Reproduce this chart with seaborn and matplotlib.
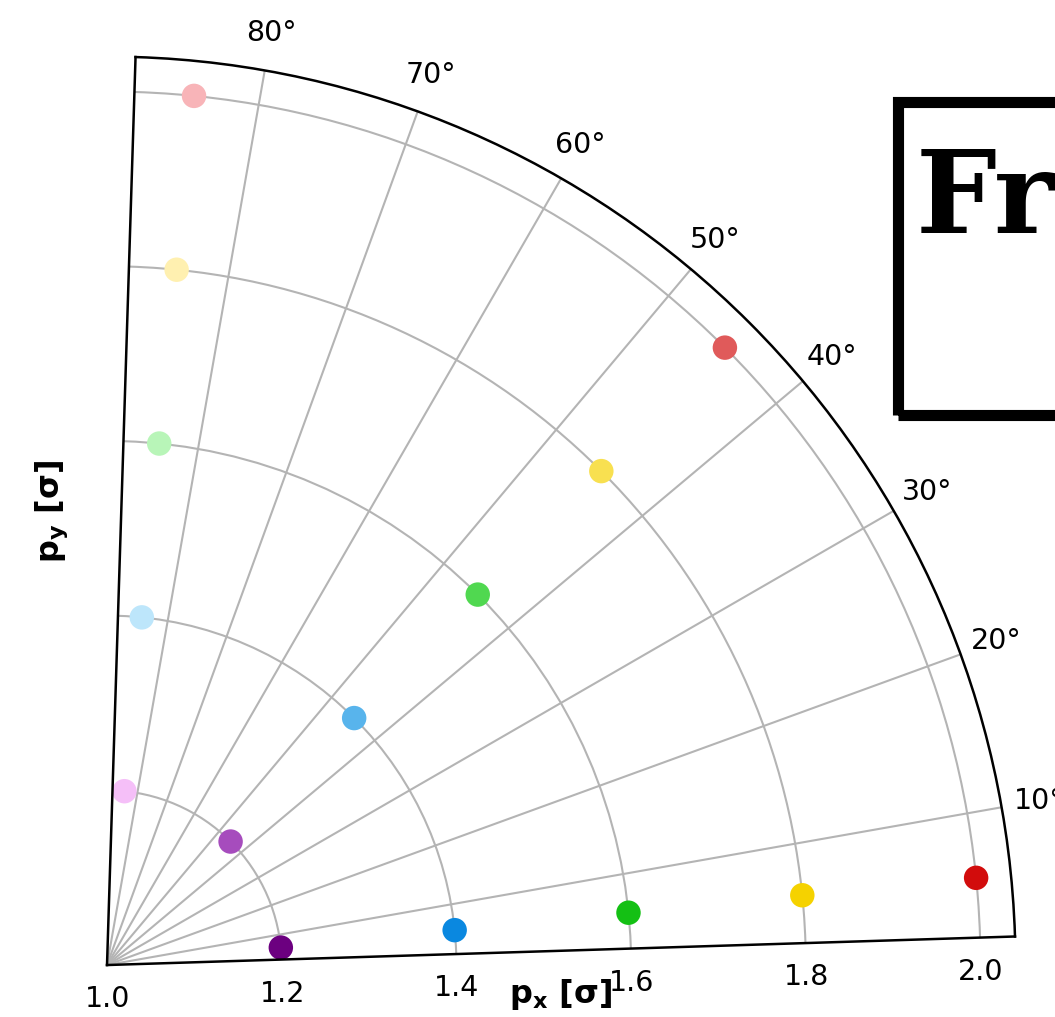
import numpy as np
import pandas as pd
import matplotlib
matplotlib.use("Agg")
import matplotlib.pyplot as plt
from matplotlib.patches import Rectangle
import seaborn as sns

# Momentum magnitudes (in units of sigma) and emission angles (radians)
radii = [1.2, 1.4, 1.6, 1.8, 2.0]
angles = [0.1, 0.785, 1.471]

# One colour set per angle row, ordered by radius
colors_low = ["#6c0080", "#0a88e0", "#14c014", "#f5d200", "#d20c0c"]
colors_mid = ["#a64cbd", "#58b4ec", "#50d850", "#f8e050", "#e05a5a"]
colors_high = ["#f5bff8", "#bde6fb", "#b8f5b8", "#fff0b0", "#f8b4b8"]
row_colors = [colors_low, colors_mid, colors_high]

theta_ticks = [10, 20, 30, 40, 50, 60, 70, 80]
r_ticks = [1.0, 1.2, 1.4, 1.6, 1.8, 2.0]

sns.set_style("white")
plt.rcParams["font.family"] = ["DejaVu Sans"]
plt.rcParams["text.color"] = "black"
plt.rcParams["axes.labelcolor"] = "black"
plt.rcParams["xtick.color"] = "black"
plt.rcParams["ytick.color"] = "black"

fig = plt.figure(figsize=(10.55, 10.17), dpi=100)
ax = fig.add_axes([0.1014, 0.0511, 0.8607, 0.8928], projection="polar")

for ang, cols in zip(angles, row_colors):
    df = pd.DataFrame({"theta": [ang] * len(radii), "r": radii,
                       "label": [f"{r:.1f}" for r in radii]})
    sns.scatterplot(data=df, x="theta", y="r", hue="label",
                    palette=cols, s=310, linewidth=0, legend=False, ax=ax)

ax.set_thetamin(1.8)
ax.set_thetamax(88.2)
ax.set_rlim(1.0, 2.04)
ax.set_rticks(r_ticks)
ax.set_yticklabels([f"{v:.1f}" for v in r_ticks])
ax.set_thetagrids(theta_ticks, [f"{t}°" for t in theta_ticks])
ax.tick_params(labelsize=20.5, colors="black")
ax.tick_params(axis="x", pad=17)
ax.tick_params(axis="y", pad=11)
ax.grid(True, color="#b4b4b4", linewidth=1.5)
for sp in ax.spines.values():
    sp.set_linewidth(1.8)
    sp.set_color("black")

ax.set_xlabel(r"$\mathbf{p_x}$ [σ]", fontsize=23, fontweight="bold")
ax.set_ylabel(r"$\mathbf{p_y}$ [σ]", fontsize=23, fontweight="bold")
ax.xaxis.set_label_coords(0.5, -0.013)
ax.yaxis.set_label_coords(-0.041, 0.5)

# Title panel on the right
fig.text(916 / 1055, 1 - 233 / 1017, "Frequency", fontsize=82,
         family="DejaVu Serif", fontweight="bold", ha="left", va="baseline",
         color="black")
fig.add_artist(Rectangle((897.5 / 1055, 1 - 415 / 1017), 0.5, 312.5 / 1017,
                         transform=fig.transFigure, fill=False,
                         edgecolor="black", linewidth=8))

fig.savefig("out.png", dpi=100)
